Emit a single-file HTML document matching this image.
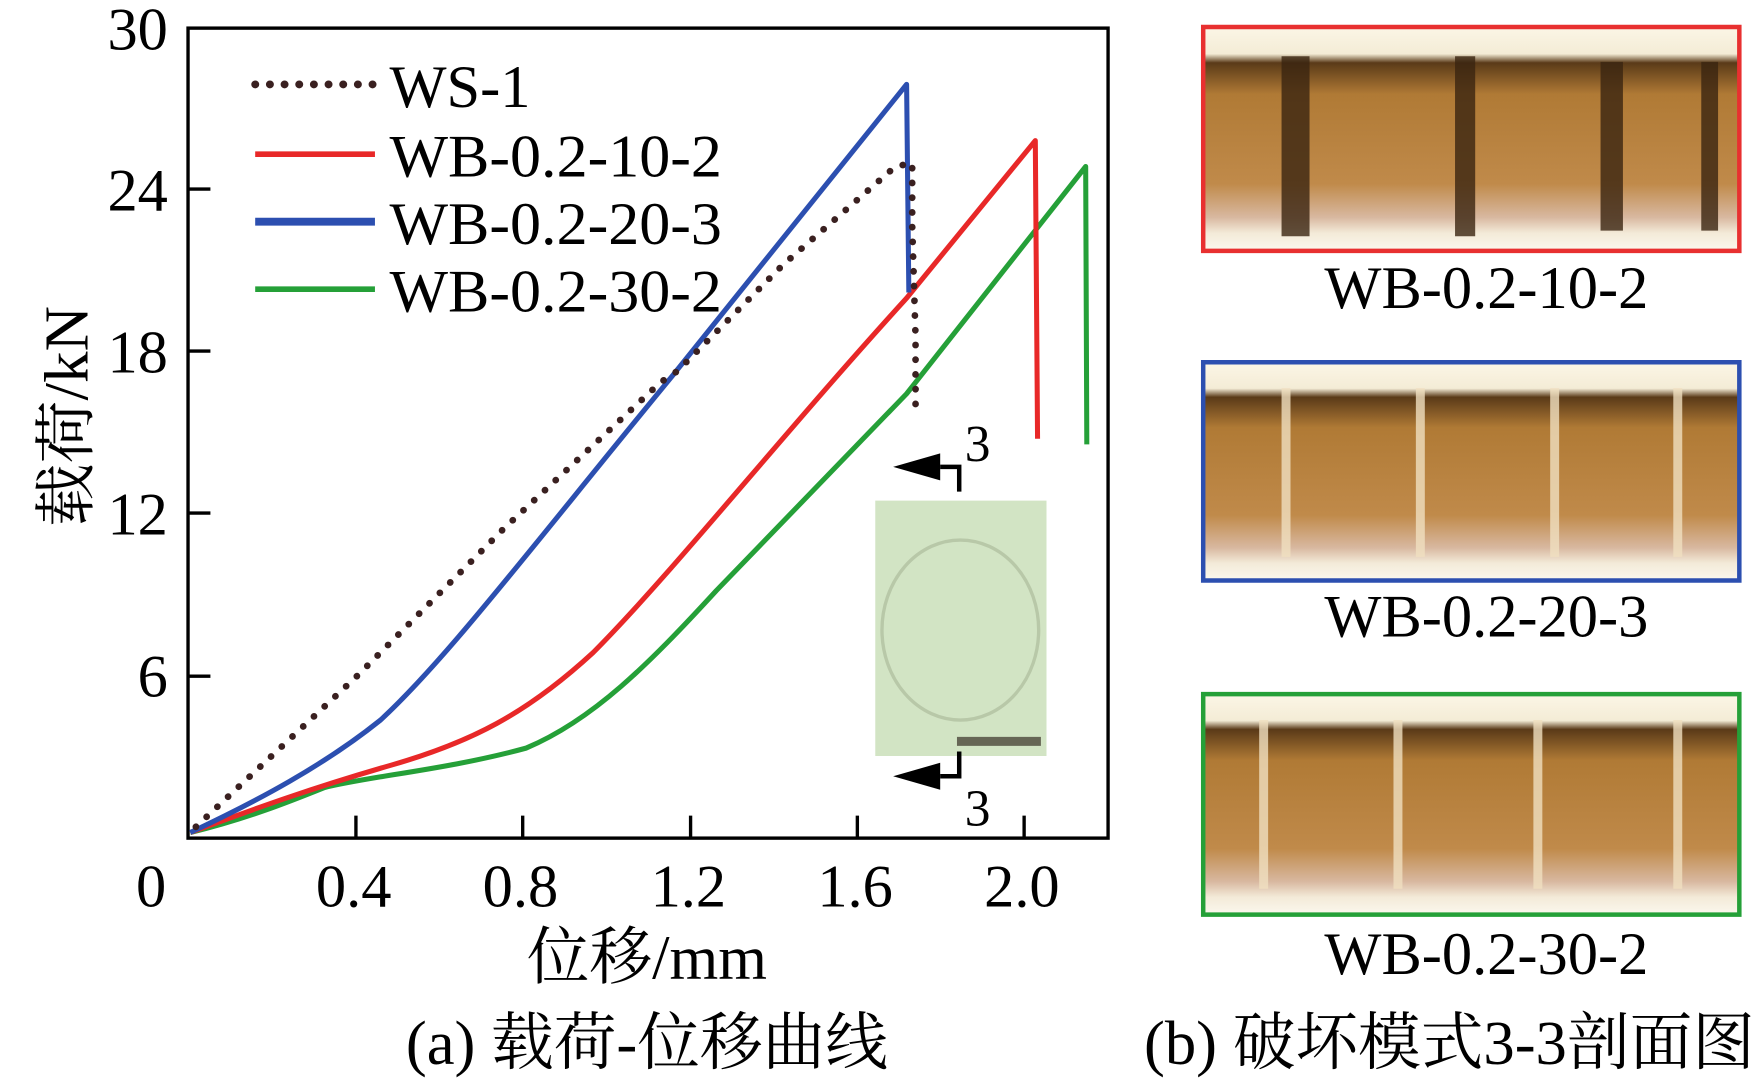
<!DOCTYPE html>
<html><head><meta charset="utf-8"><style>html,body{margin:0;padding:0;background:#fff;}svg{display:block}</style></head><body>
<svg width="1755" height="1080" viewBox="0 0 1568 960" preserveAspectRatio="none" xmlns="http://www.w3.org/2000/svg" font-family="'Liberation Serif','Noto Serif CJK SC',serif">
<defs>
<linearGradient id="br" x1="0" y1="0" x2="0" y2="1">
<stop offset="0" stop-color="#fbf6e6"/><stop offset="0.12" stop-color="#f4ecd6"/><stop offset="0.16" stop-color="#5a3a18"/><stop offset="0.3" stop-color="#b07a35"/><stop offset="0.7" stop-color="#c08a4a"/><stop offset="0.85" stop-color="#d8b8a0"/><stop offset="0.92" stop-color="#f3ead8"/><stop offset="1" stop-color="#fbf8ee"/>
</linearGradient>
</defs>
<rect x="168" y="25" width="822" height="720" fill="none" stroke="#000" stroke-width="3"/>
<g stroke="#000" stroke-width="3">
<line x1="168" y1="168" x2="188" y2="168"/><line x1="168" y1="312" x2="188" y2="312"/><line x1="168" y1="456" x2="188" y2="456"/><line x1="168" y1="601" x2="188" y2="601"/>
<line x1="318" y1="745" x2="318" y2="725"/><line x1="467" y1="745" x2="467" y2="725"/><line x1="617" y1="745" x2="617" y2="725"/><line x1="766" y1="745" x2="766" y2="725"/><line x1="915" y1="745" x2="915" y2="725"/>
</g>
<g font-size="54" fill="#000" text-anchor="end">
<text x="150" y="44">30</text><text x="150" y="187">24</text><text x="150" y="331">18</text><text x="150" y="475">12</text><text x="150" y="619">6</text>
</g>
<g font-size="54" fill="#000" text-anchor="middle">
<text x="135" y="806">0</text><text x="316" y="806">0.4</text><text x="465" y="806">0.8</text><text x="615" y="806">1.2</text><text x="764" y="806">1.6</text><text x="913" y="806">2.0</text>
<text x="578" y="870" font-size="56">位移/mm</text>
<text x="578" y="946" font-size="56">(a) 载荷-位移曲线</text>
<text x="1295" y="946" font-size="56">(b) 破坏模式3-3剖面图</text>
<text x="1328" y="274">WB-0.2-10-2</text>
<text x="1328" y="566">WB-0.2-20-3</text>
<text x="1328" y="866">WB-0.2-30-2</text>
</g>
<text transform="translate(78,370) rotate(-90)" font-size="56" text-anchor="middle">载荷/kN</text>
<rect x="782" y="445" width="153" height="227" fill="#d2e4c4"/>
<ellipse cx="858" cy="560" rx="70" ry="80" fill="none" stroke="#b8c8a8" stroke-width="3"/>
<rect x="855" y="655" width="75" height="8" fill="#665"/>
<polygon points="798,415 840,403 840,427" fill="#000"/><path d="M840 415 H857 V437" fill="none" stroke="#000" stroke-width="4"/>
<text x="862" y="410" font-size="46">3</text>
<polygon points="798,690 840,678 840,702" fill="#000"/><path d="M840 690 H857 V668" fill="none" stroke="#000" stroke-width="4"/>
<text x="862" y="734" font-size="46">3</text>
<g fill="none" stroke-linejoin="round" stroke-width="4.5">
<path stroke="#25a038" d="M170,740 C220,728 260,712 290,700 C330,690 400,684 470,665 C530,640 580,590 640,525 L810,350 L970,148 L971,395"/>
<path stroke="#e82828" d="M170,740 C230,718 280,700 350,680 C420,660 470,635 530,580 C600,510 700,385 810,265 L925,125 L927,390"/>
<path stroke="#2c4fb0" d="M170,740 C230,712 290,680 340,640 C400,585 480,480 600,335 L810,75 L812,260"/>
<polyline stroke="#3a2020" stroke-width="6" stroke-dasharray="0.1 13" stroke-linecap="round" points="175,735 320,600 450,470 590,340 605,330 700,235 800,148 815,145 815,200 818,300 818,370"/>
</g>
<g stroke-width="5">
<line x1="228" y1="75" x2="335" y2="75" stroke="#3a2020" stroke-width="7" stroke-dasharray="0.1 13" stroke-linecap="round"/>
<line x1="228" y1="137" x2="335" y2="137" stroke="#e82828"/>
<line x1="228" y1="197" x2="335" y2="197" stroke="#2c4fb0" stroke-width="7"/>
<line x1="228" y1="257" x2="335" y2="257" stroke="#25a038"/>
</g>
<g font-size="54" fill="#000">
<text x="348" y="95">WS-1</text><text x="348" y="157" textLength="297" lengthAdjust="spacingAndGlyphs">WB-0.2-10-2</text><text x="348" y="217" textLength="297" lengthAdjust="spacingAndGlyphs">WB-0.2-20-3</text><text x="348" y="277" textLength="297" lengthAdjust="spacingAndGlyphs">WB-0.2-30-2</text>
</g>
<g>
<rect x="1075" y="24" width="479" height="199" fill="url(#br)"/>
<rect x="1075" y="322" width="479" height="194" fill="url(#br)"/>
<rect x="1075" y="617" width="479" height="196" fill="url(#br)"/>
<g fill="#3a2410" opacity="0.8">
<rect x="1145" y="50" width="25" height="160"/><rect x="1300" y="50" width="18" height="160"/><rect x="1430" y="55" width="20" height="150"/><rect x="1520" y="55" width="15" height="150"/>
</g>
<g fill="#f0e0c0" opacity="0.8">
<rect x="1145" y="345" width="8" height="150"/><rect x="1265" y="345" width="8" height="150"/><rect x="1385" y="345" width="8" height="150"/><rect x="1495" y="345" width="8" height="150"/>
<rect x="1125" y="640" width="8" height="150"/><rect x="1245" y="640" width="8" height="150"/><rect x="1370" y="640" width="8" height="150"/><rect x="1495" y="640" width="8" height="150"/>
</g>
<rect x="1075" y="24" width="479" height="199" fill="none" stroke="#e83030" stroke-width="4"/>
<rect x="1075" y="322" width="479" height="194" fill="none" stroke="#2c4fb0" stroke-width="4"/>
<rect x="1075" y="617" width="479" height="196" fill="none" stroke="#25a038" stroke-width="4"/>
</g>
</svg>
</body></html>
